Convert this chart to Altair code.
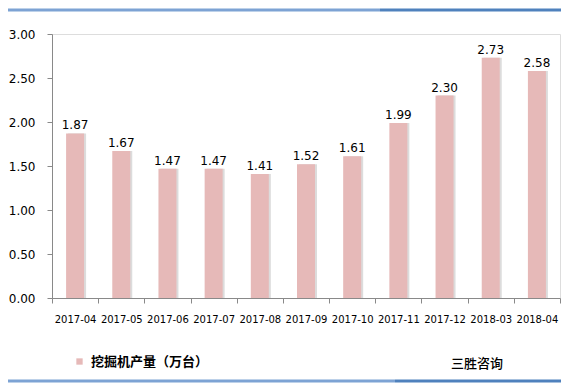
import altair as alt
import pandas as pd

months = ["2017-04", "2017-05", "2017-06", "2017-07", "2017-08", "2017-09",
          "2017-10", "2017-11", "2017-12", "2018-03", "2018-04"]
values = [1.87, 1.67, 1.47, 1.47, 1.41, 1.52, 1.61, 1.99, 2.30, 2.73, 2.58]
series_name = "挖掘机产量（万台）"
brand = "三胜咨询"
y_ticks = [0, 0.5, 1.0, 1.5, 2.0, 2.5, 3.0]

df = pd.DataFrame({"month": months, "value": values, "series": series_name})

NUM_FONT = "DejaVu Sans"
CJK_FONT = "Noto Sans CJK SC"
PINK = "#e6b9b8"

x_enc = alt.X("month:N", sort=months, title=None,
              scale=alt.Scale(paddingInner=0.0, paddingOuter=0.0),
              axis=alt.Axis(labelAngle=0, labelFont=NUM_FONT, labelFontSize=10,
                            labelColor="#000000", tickBand="extent", tickSize=5,
                            tickColor="#898989", domainColor="#898989",
                            labelPadding=11, grid=False))
y_enc = alt.Y("value:Q", title=None,
              scale=alt.Scale(domain=[0, 3], nice=False),
              axis=alt.Axis(values=y_ticks, format=".2f", labelFont=NUM_FONT,
                            labelFontSize=12, labelColor="#000000", tickSize=5,
                            tickColor="#898989", domainColor="#898989",
                            labelPadding=12, grid=False))

base = alt.Chart(df)

shadow = base.mark_bar(size=18, color="#dcdcdc", xOffset=2).encode(x=x_enc, y=y_enc)

bars = base.mark_bar(size=18).encode(
    x=x_enc, y=y_enc,
    color=alt.Color("series:N", scale=alt.Scale(range=[PINK]),
                    legend=alt.Legend(title=None, orient="none", legendX=21, legendY=321,
                                      symbolType="square", symbolSize=40,
                                      symbolStrokeWidth=0, labelFont=CJK_FONT,
                                      labelFontSize=13, labelFontWeight="bold",
                                      labelColor="#000000", padding=0, labelOffset=5)))

labels = base.mark_text(font=NUM_FONT, fontSize=12, color="#000000",
                        baseline="bottom", dy=-1).encode(
    x=alt.X("month:N", sort=months), y="value:Q", text=alt.Text("value:Q", format=".2f"))

one = alt.Data(values=[{"a": 1}])
top_light = alt.Chart(one).mark_rule(color="#7da3d4", strokeWidth=3).encode(
    x=alt.value(-44), x2=alt.value(328), y=alt.value(-24))
top_dark = alt.Chart(one).mark_rule(color="#4f81bd", strokeWidth=3).encode(
    x=alt.value(328), x2=alt.value(509), y=alt.value(-24))
bot_light = alt.Chart(one).mark_rule(color="#7da3d4", strokeWidth=3).encode(
    x=alt.value(-44), x2=alt.value(343), y=alt.value(347))
bot_dark = alt.Chart(one).mark_rule(color="#4f81bd", strokeWidth=3).encode(
    x=alt.value(343), x2=alt.value(509), y=alt.value(347))

brand_text = alt.Chart(alt.Data(values=[{"t": brand}])).mark_text(
    font=CJK_FONT, fontSize=13, fontWeight=500, color="#000000", align="left",
    baseline="middle"
).encode(x=alt.value(399), y=alt.value(330), text="t:N")

chart = alt.layer(shadow, bars, labels, top_light, top_dark, bot_light, bot_dark,
                  brand_text).properties(
    width=508, height=264,
    autosize=alt.AutoSizeParams(type="none"),
    padding={"left": 44, "top": 26, "right": 1, "bottom": 85},
).configure_view(strokeWidth=0).configure(background="white")

chart.save("out.html", embed_options={"renderer": "svg", "actions": False})
